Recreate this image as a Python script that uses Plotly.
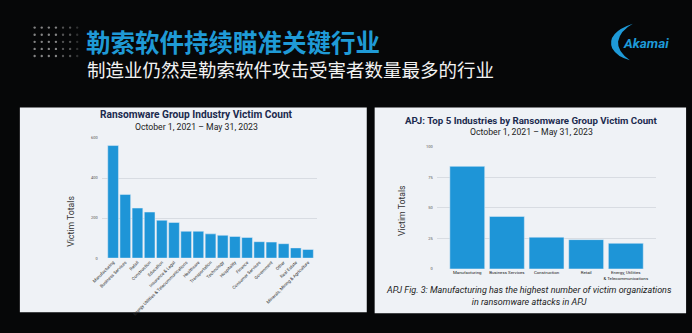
import plotly.graph_objects as go

W, H = 692, 333

# ---------------- data ----------------
all_industries = [
    "Manufacturing", "Business Services", "Retail", "Construction", "Education",
    "Insurance & Legal", "Energy Utilities & Telecommunications", "Healthcare",
    "Transportation", "Technology", "Hospitality", "Finance", "Consumer Services",
    "Government", "Other", "Real Estate", "Minerals, Mining & Agriculture",
]
all_counts = [562, 318, 250, 230, 189, 178, 134, 134, 121, 114, 108, 103, 82, 80, 72, 51, 43]
left_y_ticks = [0, 200, 400, 600]

apj_industries = ["Manufacturing", "Business Services", "Construction", "Retail",
                  "Energy, Utilities<br>& Telecommunications"]
apj_counts = [84, 43, 26, 24, 21]
right_y_ticks = [0, 25, 50, 75, 100]

title_main = "勒索软件持续瞄准关键行业"
title_sub = "制造业仍然是勒索软件攻击受害者数量最多的行业"
left_title = "Ransomware Group Industry Victim Count"
right_title = "APJ: Top 5 Industries by Ransomware Group Victim Count"
date_range = "October 1, 2021 – May 31, 2023"
caption = ("APJ Fig. 3: Manufacturing has the highest number of victim organizations"
           "<br>in ransomware attacks in APJ")


def X(p):
    return p / W


def Y(p):
    return 1 - p / H


BLUE = "#1e95d7"
NAVY = "#1b2a4e"
PANEL = "#eff2f6"
GRID = "#d8dce2"

fig = go.Figure()
fig.add_trace(go.Bar(x=all_industries, y=all_counts, marker_color=BLUE,
                     xaxis="x", yaxis="y", showlegend=False))
fig.add_trace(go.Bar(x=apj_industries, y=apj_counts, marker_color=BLUE,
                     xaxis="x2", yaxis="y2", showlegend=False))

shapes = []
# panels
shapes.append(dict(type="rect", xref="paper", yref="paper", x0=X(10), x1=X(362),
                   y0=Y(314), y1=Y(106), fillcolor=PANEL, line_width=0, layer="below"))
shapes.append(dict(type="rect", xref="paper", yref="paper", x0=X(370), x1=X(686),
                   y0=Y(315), y1=Y(106), fillcolor=PANEL, line_width=0, layer="below"))
# decorative dot grid
for r in range(5):
    for c in range(7):
        cx, cy = 25 + c * 7.2, 25 + r * 7.2
        op = 0.75 if c < 4 else (0.45 if c < 6 else 0.25)
        shapes.append(dict(type="circle", xref="paper", yref="paper",
                           x0=X(cx - 1.2), x1=X(cx + 1.2), y0=Y(cy + 1.2), y1=Y(cy - 1.2),
                           fillcolor="#b0b0b0", opacity=op, line_width=0, layer="below"))
# Akamai crescent
pts = [(632, 21), (605, 30), (611, 46), (616, 55), (629, 58), (616, 49), (617, 39), (619, 28), (632, 21)]


def P(p):
    return f"{X(p[0]):.5f},{Y(p[1]):.5f}"


path = (f"M {P(pts[0])} Q {P(pts[1])} {P(pts[2])} Q {P(pts[3])} {P(pts[4])} "
        f"Q {P(pts[5])} {P(pts[6])} Q {P(pts[7])} {P(pts[8])} Z")
shapes.append(dict(type="path", xref="paper", yref="paper", path=path,
                   fillcolor="#1e9ad8", line_width=0))

ann = []
ann.append(dict(text=f"<b>{title_main}</b>", x=X(76), y=Y(39), xref="paper", yref="paper",
                xanchor="left", yanchor="middle", showarrow=False, borderpad=0,
                font=dict(family="Noto Sans CJK SC", size=24.5, color="#1f9ad6")))
ann.append(dict(text=title_sub, x=X(77), y=Y(67), xref="paper", yref="paper",
                xanchor="left", yanchor="middle", showarrow=False, borderpad=0,
                font=dict(family="Noto Sans CJK SC", size=18.5, color="#f2f2f2")))
ann.append(dict(text="<b><i>Akamai</i></b>", x=X(645), y=Y(41), xref="paper", yref="paper",
                xanchor="center", yanchor="middle", showarrow=False,
                font=dict(family="Roboto", size=13.5, color="#1e9ad8")))
# left chart titles
ann.append(dict(text=f"<b>{left_title}</b>", x=X(189), y=Y(113), xref="paper", yref="paper",
                xanchor="center", yanchor="middle", showarrow=False,
                font=dict(family="Roboto", size=10.2, color=NAVY)))
ann.append(dict(text=date_range, x=X(189), y=Y(126), xref="paper", yref="paper",
                xanchor="center", yanchor="middle", showarrow=False,
                font=dict(family="Roboto", size=8.7, color="#222")))
ann.append(dict(text="Victim Totals", x=X(62), y=Y(222), xref="paper", yref="paper",
                xanchor="center", yanchor="middle", showarrow=False, textangle=-90,
                font=dict(family="Roboto", size=8.7, color="#333")))
# right chart titles
ann.append(dict(text=f"<b>{right_title}</b>", x=X(529), y=Y(119), xref="paper", yref="paper",
                xanchor="center", yanchor="middle", showarrow=False,
                font=dict(family="Roboto", size=9.7, color=NAVY)))
ann.append(dict(text=date_range, x=X(529), y=Y(131), xref="paper", yref="paper",
                xanchor="center", yanchor="middle", showarrow=False,
                font=dict(family="Roboto", size=8.7, color="#222")))
ann.append(dict(text="Victim Totals", x=X(398), y=Y(211), xref="paper", yref="paper",
                xanchor="center", yanchor="middle", showarrow=False, textangle=-90,
                font=dict(family="Roboto", size=8.7, color="#333")))
ann.append(dict(text=f"<i>{caption}</i>", x=X(527), y=Y(297), xref="paper", yref="paper",
                xanchor="center", yanchor="middle", showarrow=False, align="center",
                font=dict(family="Roboto", size=9, color="#222")))

fig.update_layout(
    width=W, height=H, margin=dict(l=0, r=0, t=0, b=0),
    paper_bgcolor="#060708", plot_bgcolor="rgba(0,0,0,0)",
    font=dict(family="Roboto"),
    bargap=0.12,
    shapes=shapes, annotations=ann,
    xaxis=dict(domain=[X(93), X(312)], range=[-0.94, 16.78], tickangle=-45,
               tickfont=dict(size=4.4, color="#333"), showgrid=False, ticks="",
               showline=False, zeroline=False, anchor="y"),
    yaxis=dict(domain=[Y(259), Y(137)], range=[0, 600], tickvals=left_y_ticks,
               tickfont=dict(size=4, color="#555"), gridcolor=GRID, gridwidth=1,
               zeroline=False, showline=False, ticks="", anchor="x", ticklabelstandoff=3),
    xaxis2=dict(domain=[X(433), X(655)], range=[-0.77, 4.75],
                tickfont=dict(size=4.4, color="#222"), showgrid=False, ticks="",
                showline=False, zeroline=False, anchor="y2"),
    yaxis2=dict(domain=[Y(270), Y(146)], range=[0, 100], tickvals=right_y_ticks,
                tickfont=dict(size=4, color="#555"), gridcolor=GRID, gridwidth=1,
                zeroline=False, showline=False, ticks="", anchor="x2", ticklabelstandoff=3),
)
fig.write_html("out.html")
